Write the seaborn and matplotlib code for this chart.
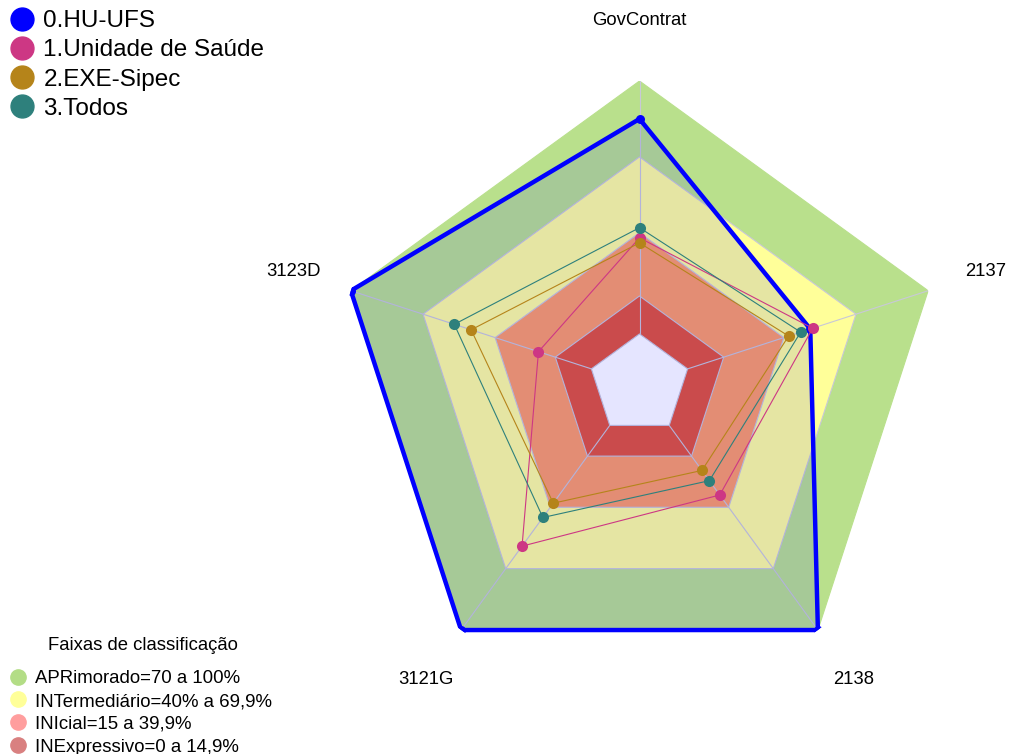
import matplotlib

matplotlib.use("Agg")
import matplotlib.pyplot as plt
import numpy as np
import pandas as pd
import seaborn as sns
from matplotlib.lines import Line2D

# radar axes, clockwise from the top
axis_labels = ["GovContrat", "2137", "2138", "3121G", "3123D"]

series_names = ["0.HU-UFS", "1.Unidade de Saúde", "2.EXE-Sipec", "3.Todos"]
hu_ufs = [85, 51, 100, 100, 100]
unidade_saude = [38, 52, 34, 59, 22]
exe_sipec = [36, 42, 22, 38, 50]
todos = [42, 47, 27, 45, 57]

band_names = [
    "APRimorado=70 a 100%",
    "INTermediário=40% a 69,9%",
    "INIcial=15 a 39,9%",
    "INExpressivo=0 a 14,9%",
]
band_tops = [100, 70, 40, 15]
center_top = 0
scale_min, scale_max = -20, 100  # centre gap like fmsb (seg=5)

series_colors = ["#0000FF", "#CD3784", "#B5841A", "#2E807C"]
band_colors = ["#B9E08C", "#FFFF99", "#FD9E65", "#E25438"]
legend_band_colors = ["#B3DD86", "#FFFF99", "#FF9E9E", "#D98080"]
grid_color = "#C8C8D8"

sns.set_theme(style="white")
plt.rcParams["font.family"] = ["Liberation Sans", "DejaVu Sans"]
plt.rcParams["text.color"] = "black"

rows = []
for name, vals in zip(series_names, [hu_ufs, unidade_saude, exe_sipec, todos]):
    for i, (lab, v) in enumerate(zip(axis_labels, vals)):
        rows.append({"series": name, "axis": lab, "idx": i, "value": v})
df = pd.DataFrame(rows)
theta = np.linspace(0, 2 * np.pi, len(axis_labels), endpoint=False)
df["theta"] = theta[df["idx"]]


def closed(a):
    a = np.asarray(a, dtype=float)
    return np.append(a, a[0])


fig = plt.figure(figsize=(10.1, 7.54), dpi=100)
ax = fig.add_axes([336 / 1010, 66 / 754, 607 / 1010, 607 / 754], projection="polar")
ax.set_theta_offset(np.pi / 2)
ax.set_theta_direction(-1)
ax.set_ylim(scale_min, scale_max)
ax.set_axis_off()

# classification bands
for k, (top, color) in enumerate(zip(band_tops, band_colors)):
    ec = color if k == 0 else grid_color
    ax.fill(closed(theta), closed(np.full(len(theta), top)), facecolor=color,
            edgecolor=ec, lw=0.8, zorder=1)
ax.fill(closed(theta), closed(np.full(len(theta), center_top)), facecolor="white",
        edgecolor=grid_color, lw=0.8, zorder=1)
for t in theta:
    ax.plot([t, t], [center_top, scale_max], color=grid_color, lw=0.8, zorder=2)

# series
ax.fill(closed(theta), closed(hu_ufs), color="#0000FF", alpha=0.1, lw=0, zorder=3)
for i, (name, color) in enumerate(zip(series_names, series_colors)):
    sub = df[df["series"] == name]
    lw, size = (3.2, 42) if i == 0 else (0.8, 64)
    ax.plot(closed(sub["theta"]), closed(sub["value"]), color=color, lw=lw, zorder=4 + i)
    sns.scatterplot(data=sub, x="theta", y="value", color=color, s=size, linewidth=0,
                    ax=ax, legend=False, zorder=4 + i)

for t, lab in zip(theta, axis_labels):
    ax.text(t, 124, lab, ha="center", va="center", fontsize=13.3, color="black")

ax.set_xlim(0, 2 * np.pi)
ax.set_ylim(scale_min, scale_max)
ax.set_axis_off()

h1 = [Line2D([], [], ls="", marker="o", ms=16.5, mfc=c, mec=c) for c in series_colors]
fig.legend(h1, series_names, loc="upper left", bbox_to_anchor=(10 / 1010, 1 - 10 / 754),
           frameon=False, fontsize=17.5, handlelength=0.95, handletextpad=0.42,
           labelspacing=0.3, borderpad=0, borderaxespad=0)

fig.text(143 / 1010, 1 - 646 / 754, "Faixas de classificação", ha="center", va="center",
         fontsize=13.3, color="black")
h2 = [Line2D([], [], ls="", marker="o", ms=11, mfc=c, mec=c) for c in legend_band_colors]
fig.legend(h2, band_names, loc="upper left", bbox_to_anchor=(10 / 1010, 1 - 670 / 754),
           frameon=False, fontsize=13.4, handlelength=0.9, handletextpad=0.44,
           labelspacing=0.32, borderpad=0, borderaxespad=0)

fig.savefig("out.png", dpi=100)
